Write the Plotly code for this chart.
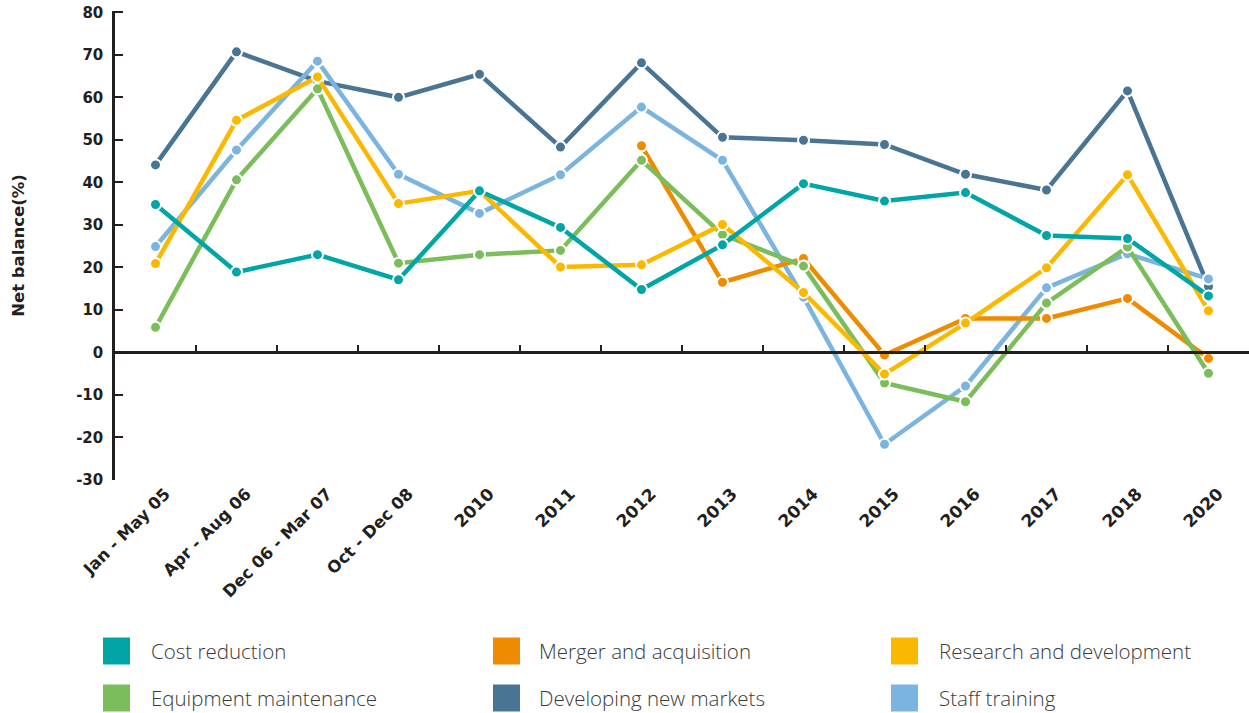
import plotly.graph_objects as go

categories = ["Jan - May 05", "Apr - Aug 06", "Dec 06 - Mar 07", "Oct - Dec 08", "2010", "2011",
              "2012", "2013", "2014", "2015", "2016", "2017", "2018", "2020"]

cost_reduction = [34.8, 18.9, 23.0, 17.1, 38.0, 29.4, 14.8, 25.3, 39.7, 35.6, 37.6, 27.5, 26.8, 13.3]
merger_acquisition = [None, None, None, None, None, None, 48.6, 16.5, 22.1, -0.6, 8.0, 8.0, 12.7, -1.4]
research_development = [20.9, 54.6, 64.8, 35.0, 38.0, 20.1, 20.6, 30.1, 14.1, -5.1, 6.9, 19.9, 41.8, 9.8]
equipment_maintenance = [5.9, 40.6, 62.0, 21.0, 23.0, 24.0, 45.2, 27.7, 20.3, -7.2, -11.6, 11.6, 24.8, -4.9]
developing_markets = [44.1, 70.7, 63.8, 60.0, 65.4, 48.3, 68.1, 50.6, 49.9, 48.9, 41.9, 38.2, 61.5, 15.5]
staff_training = [24.9, 47.6, 68.5, 41.9, 32.7, 41.8, 57.7, 45.2, 13.0, -21.6, -7.9, 15.2, 23.2, 17.3]

y_ticks = [80, 70, 60, 50, 40, 30, 20, 10, 0, -10, -20, -30]
y_ticklabels = ["80", "70", "60", "50", "40", "30", "20", "10", "0", "-10", "-20", "-30"]

series = [
    ("Developing new markets", developing_markets, "#4a7494"),
    ("Staff training", staff_training, "#7cb4e0"),
    ("Merger and acquisition", merger_acquisition, "#ef8b00"),
    ("Equipment maintenance", equipment_maintenance, "#7bbd5a"),
    ("Research and development", research_development, "#fbb800"),
    ("Cost reduction", cost_reduction, "#00a6a6"),
]

legend_order = [
    ("Cost reduction", "#00a6a6"), ("Merger and acquisition", "#ef8b00"), ("Research and development", "#fbb800"),
    ("Equipment maintenance", "#7bbd5a"), ("Developing new markets", "#4a7494"), ("Staff training", "#7cb4e0"),
]

W, H = 1249, 713
ML, MR, MT, MB = 115, 0, 11, 233
PW, PH = W - ML - MR, H - MT - MB

def px_x(x):
    return (x - ML) / PW

def px_y(y):
    return (H - MB - y) / PH

xs = list(range(len(categories)))
fig = go.Figure()
for name, vals, color in series:
    fig.add_trace(go.Scatter(
        x=xs, y=vals, name=name, mode="lines+markers",
        line=dict(color=color, width=4.5),
        marker=dict(size=11, color=color, line=dict(color="white", width=2)),
        showlegend=False, connectgaps=False,
    ))

ticktext = []
for c in categories:
    if c.isdigit():
        ticktext.append(f"<span style='font-size:17px'>{c}</span>")
    else:
        ticktext.append(c)

ymin, ymax = -30, 80.3
zero_pos = (0 - ymin) / (ymax - ymin)

fig.add_trace(go.Scatter(x=[None], y=[None], xaxis="x2", showlegend=False, hoverinfo="skip"))

BOLD = "DejaVu Sans"
fig.update_layout(
    width=W, height=H,
    margin=dict(l=ML, r=MR, t=MT, b=MB, autoexpand=False),
    plot_bgcolor="white", paper_bgcolor="white",
    font=dict(family=BOLD, color="#231f20"),
    xaxis=dict(
        range=[-0.5, len(categories) - 0.5],
        tickmode="array", tickvals=[i + 0.12 for i in xs], ticktext=ticktext,
        tickangle=-45, showgrid=False, zeroline=False, showline=False, ticks="",
        tickfont=dict(size=16.5, family=BOLD, weight="bold", color="#231f20"),
    ),
    xaxis2=dict(
        overlaying="x", anchor="free", position=zero_pos,
        range=[-0.5, len(categories) - 0.5],
        tickmode="array", tickvals=[i + 0.5 for i in xs], showticklabels=False,
        ticks="inside", ticklen=7, tickwidth=2, tickcolor="#231f20",
        showline=True, linecolor="#231f20", linewidth=2.5, showgrid=False, zeroline=False,
    ),
    yaxis=dict(
        range=[ymin, ymax], tickmode="array", tickvals=y_ticks, ticktext=y_ticklabels,
        ticks="inside", ticklen=8, tickwidth=2, tickcolor="#231f20",
        showline=True, linecolor="#231f20", linewidth=2.5, showgrid=False, zeroline=False,
        ticklabelstandoff=6,
        tickfont=dict(size=15, family=BOLD, weight="bold", color="#231f20"),
        title=dict(text="Net balance(%)", standoff=48,
                   font=dict(size=16.5, family=BOLD, weight="bold", color="#231f20")),
    ),
)

col_sw = [103, 493, 891]
col_tx = [149, 537, 937]
row_y = [651, 698]
for i, (name, color) in enumerate(legend_order):
    r, c = divmod(i, 3)
    cy = row_y[r]
    fig.add_shape(type="rect", xref="paper", yref="paper",
                  x0=px_x(col_sw[c]), x1=px_x(col_sw[c] + 27),
                  y0=px_y(cy + 13.5), y1=px_y(cy - 13.5),
                  fillcolor=color, line=dict(width=0))
    fig.add_annotation(xref="paper", yref="paper", x=px_x(col_tx[c]), y=px_y(cy),
                       text=name, showarrow=False, xanchor="left", yanchor="middle",
                       font=dict(size=20.5, family="Open Sans", weight=300, color="#3a3a3a"))

fig.write_html("out.html", config={"displayModeBar": False},
               post_script="document.body.style.margin='0';document.body.style.overflow='hidden';")
